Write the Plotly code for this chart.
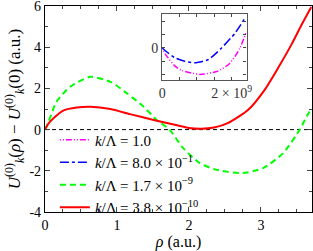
import plotly.graph_objects as go

# main panel: rho (a.u.) and potential difference (a.u.)
rho_red = [0, 0.05, 0.118, 0.26, 0.44, 0.63, 0.91, 1.18, 1.51, 1.82, 2.0, 2.17, 2.35, 2.54, 2.82, 3.05, 3.24, 3.42, 3.56, 3.70]
u_red = [0, 0.3, 0.55, 0.93, 1.07, 1.11, 1.0, 0.75, 0.47, 0.22, 0.08, 0.04, 0.1, 0.31, 0.95, 1.92, 3.0, 4.1, 5.05, 5.95]

rho_green = [0, 0.05, 0.16, 0.35, 0.63, 0.91, 1.14, 1.37, 1.55, 1.73, 1.92, 2.15, 2.38, 2.75, 3.03, 3.31, 3.54, 3.61, 3.70]
u_green = [0, 0.39, 1.35, 2.08, 2.56, 2.32, 1.76, 1.11, 0.47, 0, -0.9, -1.63, -1.95, -2.11, -1.87, -1.14, 0, 0.47, 1.03]

# inset: rho in units of 1e9, potential in arbitrary units
rho_blue = [0, 0.11, 0.37, 0.65, 0.94, 1.33, 1.71, 2.1, 2.38]
u_blue = [0, -0.1, -0.3, -0.4, -0.45, -0.35, 0, 0.45, 0.9]

rho_mag = [0, 0.1, 0.37, 0.56, 1.09, 1.6, 1.91, 2.1, 2.24, 2.43]
u_mag = [0, -0.2, -0.55, -0.68, -0.8, -0.7, -0.5, -0.25, 0, 0.5]

names = ["<i>k</i>/Λ = 1.0",
         "<i>k</i>/Λ = 8.0 × 10<sup>−1</sup>",
         "<i>k</i>/Λ = 1.7 × 10<sup>−9</sup>",
         "<i>k</i>/Λ = 3.8 × 10<sup>−10</sup>"]

main_yticks = [-4, -2, 0, 2, 4, 6]
main_yticktext = ["-4", "-2", "0", "2", "4", "6"]
main_xticks = [0, 1, 2, 3]
main_xticktext = ["0", "1", "2", "3"]
inset_xticks = [0, 0.5, 1, 1.5, 2]
inset_xticktext = ["0", "", "", "", "2 × 10<sup>9</sup>"]
inset_yticks = [-0.8, -0.4, 0, 0.4, 0.8]
inset_yticktext = ["", "", "0", "", ""]

FONT = "Liberation Serif"

fig = go.Figure()
fig.add_trace(go.Scatter(x=rho_mag, y=u_mag, mode="lines", name=names[0],
                         line=dict(color="#ff00ff", width=1.5, dash="1px,2px,1px,2px,6px,2px",
                                   shape="spline", smoothing=0.6),
                         xaxis="x2", yaxis="y2"))
fig.add_trace(go.Scatter(x=rho_blue, y=u_blue, mode="lines", name=names[1],
                         line=dict(color="#0000ff", width=1.5, dash="dashdot", shape="spline", smoothing=0.6),
                         xaxis="x2", yaxis="y2"))
fig.add_trace(go.Scatter(x=rho_green, y=u_green, mode="lines", name=names[2],
                         line=dict(color="#00ff00", width=2, dash="6px,4px", shape="spline", smoothing=0.6)))
fig.add_trace(go.Scatter(x=rho_red, y=u_red, mode="lines", name=names[3],
                         line=dict(color="#ff0000", width=2, shape="spline", smoothing=0.6)))

fig.add_shape(type="line", xref="x domain", yref="y", x0=0, x1=1, y0=0, y1=0,
              line=dict(color="black", width=1, dash="4px,3px"), layer="below")
fig.add_shape(type="line", xref="x2 domain", yref="y2", x0=0, x1=1, y0=0, y1=0,
              line=dict(color="#707070", width=1.5, dash="4px,3px"), layer="below")

axis_common = dict(showline=True, mirror="allticks", linecolor="black", linewidth=1.2,
                   ticks="inside", showgrid=False, zeroline=False, automargin=False,
                   ticklabeloverflow="allow",
                   tickfont=dict(family=FONT, size=14, color="black"))

fig.update_layout(
    width=313, height=251,
    margin=dict(l=45, r=1, t=6, b=39),
    plot_bgcolor="white", paper_bgcolor="white",
    font=dict(family=FONT, size=14, color="black"),
    xaxis=dict(range=[0, 3.71], tickvals=main_xticks, ticktext=main_xticktext, ticklen=5,
               minor=dict(dtick=0.25, ticks="inside", ticklen=3, showgrid=False),
               title=dict(text="<i>ρ</i> (a.u.)", font=dict(family=FONT, size=16), standoff=0),
               **axis_common),
    yaxis=dict(range=[-4, 6], tickvals=main_yticks, ticktext=main_yticktext, ticklen=5,
               minor=dict(dtick=1, ticks="inside", ticklen=3, showgrid=False),
               title=dict(text="<i>U</i><sup>(0)</sup><sub><i>k</i></sub>(<i>ρ</i>) − <i>U</i><sup>(0)</sup><sub><i>k</i></sub>(0) (a.u.)",
                          font=dict(family=FONT, size=17), standoff=4),
               **axis_common),
    xaxis2=dict(domain=[0.439, 0.755], anchor="y2", range=[0, 2.43],
                tickvals=inset_xticks, ticktext=inset_xticktext, ticklen=3,
                showline=True, mirror="allticks", linecolor="#555555", linewidth=1.2,
                ticks="inside", showgrid=False, zeroline=False, automargin=False,
                ticklabeloverflow="allow",
                tickfont=dict(family=FONT, size=14, color="#333333")),
    yaxis2=dict(domain=[0.64, 0.961], anchor="x2", range=[-0.974, 1.026],
                tickvals=inset_yticks, ticktext=inset_yticktext, ticklen=3,
                showline=True, mirror="allticks", linecolor="#555555", linewidth=1.2,
                ticks="inside", showgrid=False, zeroline=False, automargin=False,
                ticklabeloverflow="allow",
                tickfont=dict(family=FONT, size=14, color="#333333")),
    legend=dict(x=0.037, y=0.43, xanchor="left", yanchor="top", bgcolor="rgba(0,0,0,0)",
                font=dict(family=FONT, size=15), tracegroupgap=0, itemwidth=30),
    showlegend=True,
)

fig.write_html("out.html", config={"displayModeBar": False},
               post_script="document.body.style.margin='0';document.body.style.padding='0';document.body.style.overflow='hidden';")
